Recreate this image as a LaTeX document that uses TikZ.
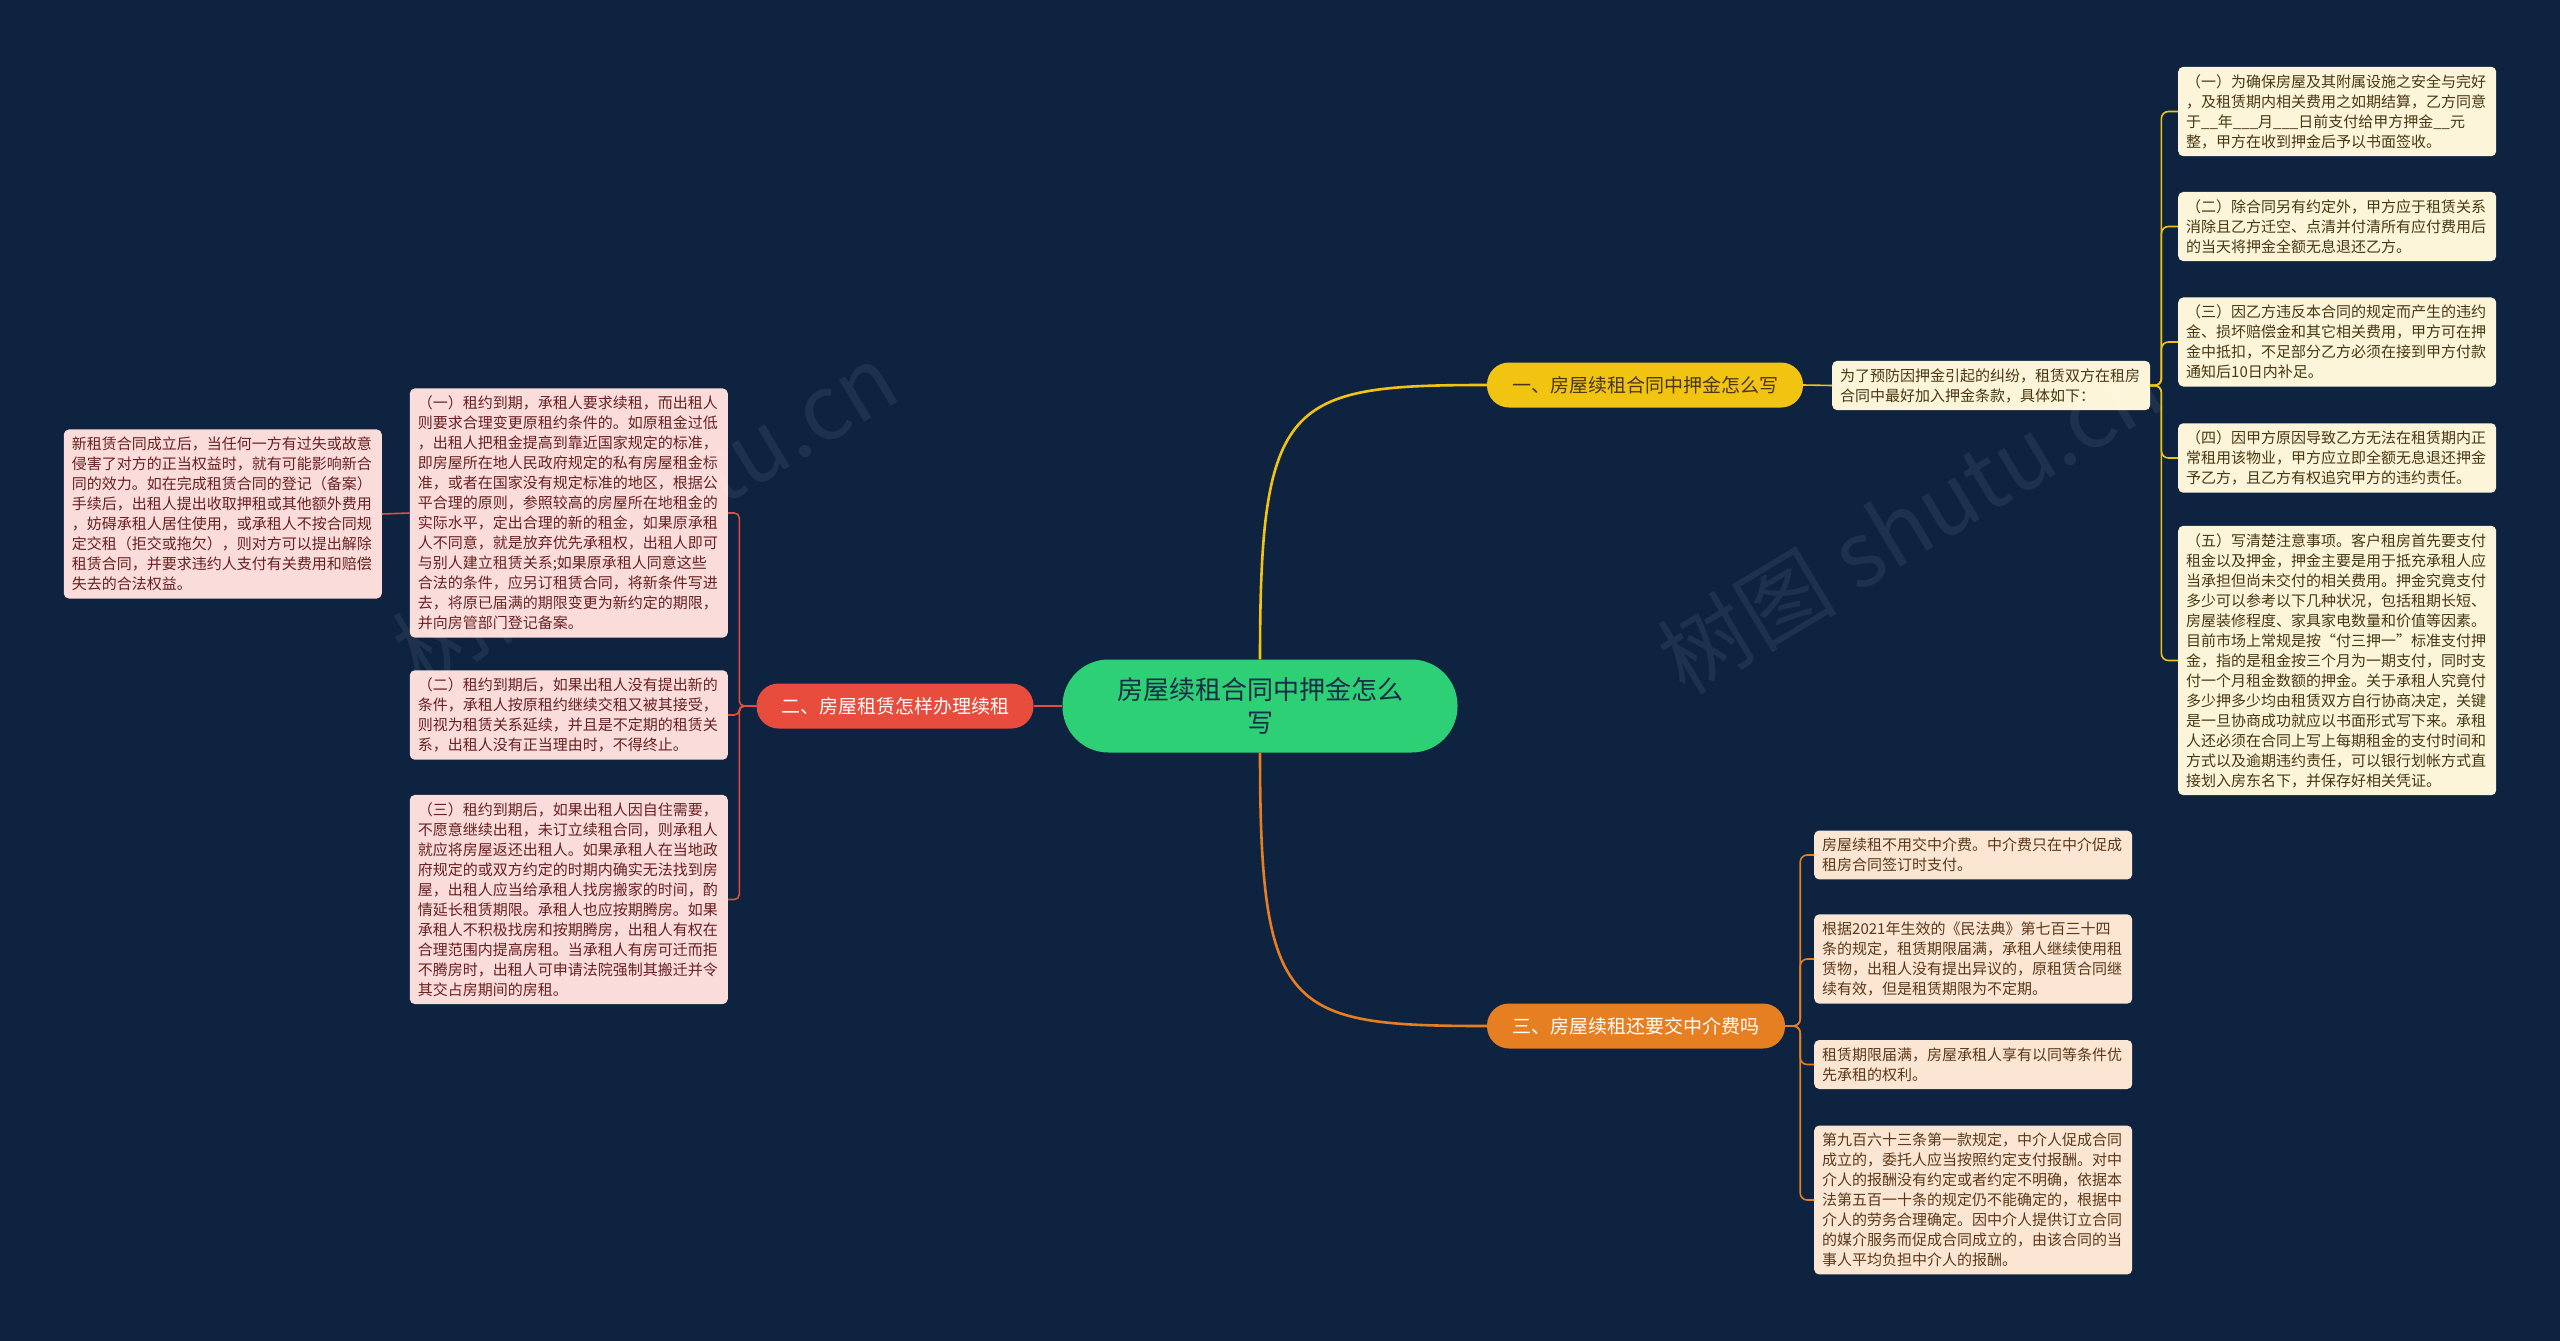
\documentclass[tikz,border=0pt]{standalone}
\usepackage{fontspec}
\setmainfont{Noto Sans CJK SC}
\definecolor{bg}{RGB}{13,35,64}
\definecolor{cgreen}{RGB}{46,208,118}
\definecolor{ctext}{RGB}{22,45,72}
\definecolor{cyellow}{RGB}{242,196,18}
\definecolor{cred}{RGB}{231,76,60}
\definecolor{corange}{RGB}{230,126,34}
\definecolor{yfill}{RGB}{253,245,218}
\definecolor{ytext}{RGB}{72,56,18}
\definecolor{pfill}{RGB}{250,221,219}
\definecolor{ptext}{RGB}{104,32,32}
\definecolor{ofill}{RGB}{251,230,212}
\definecolor{otext}{RGB}{92,56,24}
\begin{document}
\begin{tikzpicture}[x=1pt,y=-1pt,
  leaf/.style={rounded corners=5pt, inner xsep=8pt, inner ysep=7.5pt, align=left,
    font=\fontsize{15}{20}\selectfont, text width=302pt},
  yleaf/.style={leaf, fill=yfill, text=ytext, anchor=west},
  pleaf/.style={leaf, fill=pfill, text=ptext, anchor=east},
  oleaf/.style={leaf, fill=ofill, text=otext, anchor=west},
  pill/.style={rounded corners=22pt, minimum height=45pt, inner sep=0pt,
    font=\fontsize{19}{22}\selectfont},
  yline/.style={draw=cyellow, line width=1.6pt, rounded corners=7pt},
  rline/.style={draw=cred, line width=1.6pt, rounded corners=5pt},
  oline/.style={draw=corange, line width=1.6pt, rounded corners=7pt},
  wmark/.style={text=white, opacity=0.07, font=\fontsize{90}{100}\selectfont, rotate=31}
]
\fill[bg] (0,0) rectangle (2560,1341);
\useasboundingbox (0,0) rectangle (2560,1341);

% centre
\node[fill=cgreen, text=ctext, rounded corners=46pt, minimum width=395pt, minimum height=93pt,
  align=center, font=\fontsize{26}{33}\selectfont] (c) at (1260,706) {房屋续租合同中押金怎么\\写};

% branches
\node[pill, fill=cyellow, text=ytext, minimum width=316pt] (b1) at (1645,385) {一、房屋续租合同中押金怎么写};
\node[pill, fill=cred, text=white, minimum width=277pt] (b2) at (895,706) {二、房屋租赁怎样办理续租};
\node[pill, fill=corange, text=white, minimum width=298pt] (b3) at (1636,1026) {三、房屋续租还要交中介费吗};

\draw[cyellow, line width=2.6pt] (c.north) .. controls +(0,-260) and +(-200,0) .. (b1.west);
\draw[corange, line width=2.6pt] (c.south) .. controls +(0,260) and +(-200,0) .. (b3.west);
\draw[cred, line width=2.6pt] (c.west) -- (b2.east);

% branch 1
\node[yleaf] (d1) at (1832,385.5) {为了预防因押金引起的纠纷，租赁双方在租房\\合同中最好加入押金条款，具体如下：};
\node[yleaf] (r1) at (2178,111.5) {（一）为确保房屋及其附属设施之安全与完好\\，及租赁期内相关费用之如期结算，乙方同意\\于\_\_年\_\_\_月\_\_\_日前支付给甲方押金\_\_元\\整，甲方在收到押金后予以书面签收。};
\node[yleaf] (r2) at (2178,226.5) {（二）除合同另有约定外，甲方应于租赁关系\\消除且乙方迁空、点清并付清所有应付费用后\\的当天将押金全额无息退还乙方。};
\node[yleaf] (r3) at (2178,342) {（三）因乙方违反本合同的规定而产生的违约\\金、损坏赔偿金和其它相关费用，甲方可在押\\金中抵扣，不足部分乙方必须在接到甲方付款\\通知后10日内补足。};
\node[yleaf] (r4) at (2178,458) {（四）因甲方原因导致乙方无法在租赁期内正\\常租用该物业，甲方应立即全额无息退还押金\\予乙方，且乙方有权追究甲方的违约责任。};
\node[yleaf] (r5) at (2178,660.5) {（五）写清楚注意事项。客户租房首先要支付\\租金以及押金，押金主要是用于抵充承租人应\\当承担但尚未交付的相关费用。押金究竟支付\\多少可以参考以下几种状况，包括租期长短、\\房屋装修程度、家具家电数量和价值等因素。\\目前市场上常规是按“付三押一”标准支付押\\金，指的是租金按三个月为一期支付，同时支\\付一个月租金数额的押金。关于承租人究竟付\\多少押多少均由租赁双方自行协商决定，关键\\是一旦协商成功就应以书面形式写下来。承租\\人还必须在合同上写上每期租金的支付时间和\\方式以及逾期违约责任，可以银行划帐方式直\\接划入房东名下，并保存好相关凭证。};
\draw[yline] (b1.east) -- (d1.west);
\foreach \n in {r1,r2,r3,r4,r5} \draw[yline] (d1.east) -- ++(11,0) |- (\n.west);

% branch 2
\node[pleaf] (la) at (728,513) {（一）租约到期，承租人要求续租，而出租人\\则要求合理变更原租约条件的。如原租金过低\\，出租人把租金提高到靠近国家规定的标准，\\即房屋所在地人民政府规定的私有房屋租金标\\准，或者在国家没有规定标准的地区，根据公\\平合理的原则，参照较高的房屋所在地租金的\\实际水平，定出合理的新的租金，如果原承租\\人不同意，就是放弃优先承租权，出租人即可\\与别人建立租赁关系;如果原承租人同意这些\\合法的条件，应另订租赁合同，将新条件写进\\去，将原已届满的期限变更为新约定的期限，\\并向房管部门登记备案。};
\node[pleaf] (lb) at (728,715) {（二）租约到期后，如果出租人没有提出新的\\条件，承租人按原租约继续交租又被其接受，\\则视为租赁关系延续，并且是不定期的租赁关\\系，出租人没有正当理由时，不得终止。};
\node[pleaf] (lc) at (728,899.5) {（三）租约到期后，如果出租人因自住需要，\\不愿意继续出租，未订立续租合同，则承租人\\就应将房屋返还出租人。如果承租人在当地政\\府规定的或双方约定的时期内确实无法找到房\\屋，出租人应当给承租人找房搬家的时间，酌\\情延长租赁期限。承租人也应按期腾房。如果\\承租人不积极找房和按期腾房，出租人有权在\\合理范围内提高房租。当承租人有房可迁而拒\\不腾房时，出租人可申请法院强制其搬迁并令\\其交占房期间的房租。};
\node[pleaf] (ll) at (382,514) {新租赁合同成立后，当任何一方有过失或故意\\侵害了对方的正当权益时，就有可能影响新合\\同的效力。如在完成租赁合同的登记（备案）\\手续后，出租人提出收取押租或其他额外费用\\，妨碍承租人居住使用，或承租人不按合同规\\定交租（拒交或拖欠），则对方可以提出解除\\租赁合同，并要求违约人支付有关费用和赔偿\\失去的合法权益。};
\foreach \n in {la,lb,lc} \draw[rline] (b2.west) -- ++(-17,0) |- (\n.east);
\draw[rline] (la.west) -- (ll.east);

% branch 3
\node[oleaf] (o1) at (1814,855) {房屋续租不用交中介费。中介费只在中介促成\\租房合同签订时支付。};
\node[oleaf] (o2) at (1814,959) {根据2021年生效的《民法典》第七百三十四\\条的规定，租赁期限届满，承租人继续使用租\\赁物，出租人没有提出异议的，原租赁合同继\\续有效，但是租赁期限为不定期。};
\node[oleaf] (o3) at (1814,1064.5) {租赁期限届满，房屋承租人享有以同等条件优\\先承租的权利。};
\node[oleaf] (o4) at (1814,1200) {第九百六十三条第一款规定，中介人促成合同\\成立的，委托人应当按照约定支付报酬。对中\\介人的报酬没有约定或者约定不明确，依据本\\法第五百一十条的规定仍不能确定的，根据中\\介人的劳务合理确定。因中介人提供订立合同\\的媒介服务而促成合同成立的，由该合同的当\\事人平均负担中介人的报酬。};
\foreach \n in {o1,o2,o3,o4} \draw[oline] (b3.east) -- ++(15,0) |- (\n.west);

% watermarks
\node[wmark] (w1) at (645,514) {树图 shutu.cn};
\node[wmark] (w2) at (1910,522) {树图 shutu.cn};
\end{tikzpicture}
\end{document}
